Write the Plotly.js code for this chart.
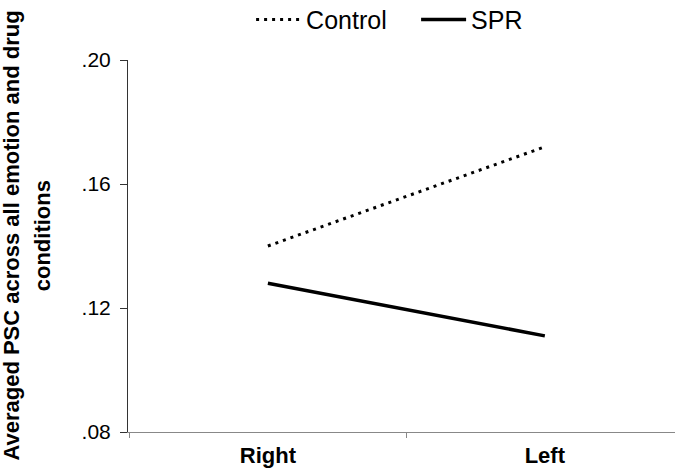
<!DOCTYPE html>
<html>
<head>
<meta charset="utf-8">
<script src="https://cdn.plot.ly/plotly-3.0.1.min.js"></script>
<style>
  html, body { margin: 0; padding: 0; background: #fff; }
  #chart { width: 675px; height: 470px; }
</style>
</head>
<body>
<div id="chart"></div>
<script>
// Hemisphere categories on the x axis
const hemispheres = ['Right', 'Left'];

// Averaged PSC per group
const controlPSC = [0.140, 0.172];
const sprPSC = [0.128, 0.111];

// Y axis ticks and their printed labels
const yTickValues = [0.08, 0.12, 0.16, 0.20];
const yTickLabels = ['.08', '.12', '.16', '.20'];

// Y axis title, one entry per printed line
const yTitleLines = ['Averaged PSC across all emotion and drug', 'conditions'];

const FONT = 'Liberation Sans, Arial, sans-serif';

const traces = [
  {
    x: hemispheres,
    y: controlPSC,
    name: 'Control',
    type: 'scatter',
    mode: 'lines',
    line: { color: '#000', width: 3, dash: '3px,5px' }
  },
  {
    x: hemispheres,
    y: sprPSC,
    name: 'SPR',
    type: 'scatter',
    mode: 'lines',
    line: { color: '#000', width: 3.5 }
  }
];

// Two-line rotated y title, placed line by line
const titleX = [-0.212, -0.156];
const titleAnnotations = yTitleLines.map((line, i) => ({
  text: '<b>' + line + '</b>',
  textangle: -90,
  xref: 'paper', yref: 'paper',
  x: titleX[i], y: 0.528,
  xanchor: 'center', yanchor: 'middle',
  showarrow: false,
  font: { family: FONT, size: 22, color: '#000' }
}));

const layout = {
  width: 675,
  height: 470,
  margin: { l: 128, r: 0, t: 60, b: 38 },
  paper_bgcolor: '#fff',
  plot_bgcolor: '#fff',
  font: { family: FONT, color: '#000' },
  showlegend: true,
  legend: {
    orientation: 'h',
    xref: 'container', yref: 'container',
    x: 0.372, xanchor: 'left',
    y: 0.958, yanchor: 'middle',
    font: { family: FONT, size: 25, color: '#000' },
    itemwidth: 45,
    entrywidth: 105,
    entrywidthmode: 'pixels',
    tracegroupgap: 0,
    bgcolor: 'rgba(0,0,0,0)'
  },
  xaxis: {
    type: 'category',
    range: [-0.505, 1.47],
    tickson: 'boundaries',
    ticks: 'outside',
    ticklen: 5,
    tickcolor: '#888',
    showline: true,
    linecolor: '#888',
    linewidth: 1,
    showgrid: false,
    zeroline: false,
    ticklabelstandoff: 4,
    tickfont: { family: FONT, size: 22, color: '#000', weight: 'bold' },
    fixedrange: true
  },
  yaxis: {
    range: [0.08, 0.20],
    tickvals: yTickValues,
    ticktext: yTickLabels,
    ticks: 'outside',
    ticklen: 7,
    tickcolor: '#333',
    showline: true,
    linecolor: '#333',
    linewidth: 1,
    showgrid: false,
    zeroline: false,
    ticklabelstandoff: 5,
    tickfont: { family: FONT, size: 21, color: '#000' },
    fixedrange: true
  },
  annotations: titleAnnotations
};

Plotly.newPlot('chart', traces, layout, { displayModeBar: false, staticPlot: true });
</script>
</body>
</html>
